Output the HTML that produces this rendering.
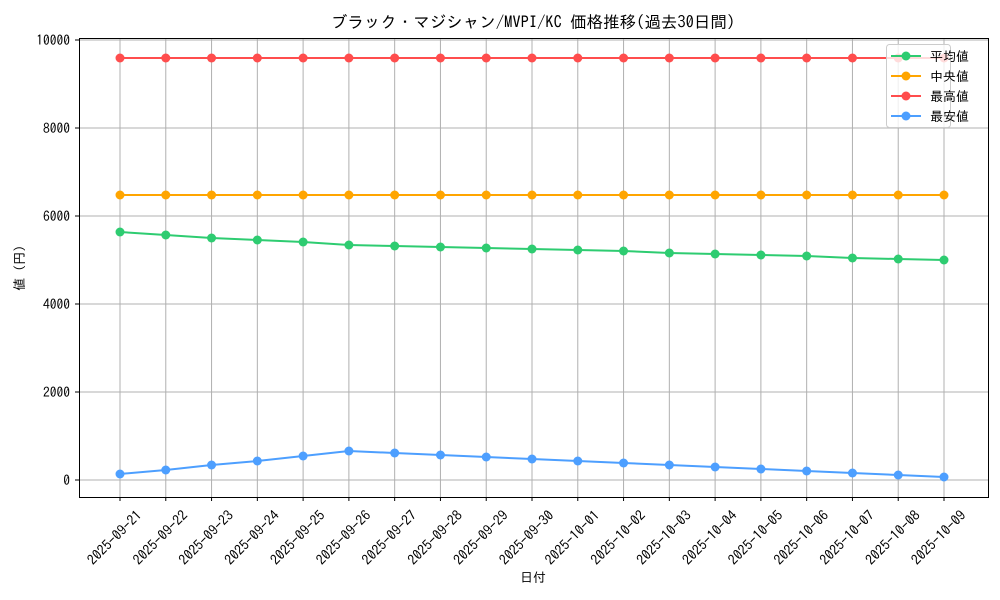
<!DOCTYPE html>
<html><head><meta charset="utf-8"><style>body{margin:0;background:#fff}svg{display:block}text{font-family:"IPAGothic","Noto Sans CJK JP",monospace;fill:#000}</style></head><body>
<svg width="1000" height="600" xmlns="http://www.w3.org/2000/svg">
<rect width="1000" height="600" fill="#fff"/>
<g id="grid" stroke="#b0b0b0" stroke-width="1"></g>
<g id="series"></g>
<rect x="79.5" y="38.5" width="909" height="459" fill="none" stroke="#000" stroke-width="1"/>
<g id="ticks" font-size="13.5"></g>
<text x="533" y="28" font-size="16.5" text-anchor="middle">ブラック・マジシャン/MVPI/KC 価格推移(過去30日間)</text>
<text x="533" y="582" font-size="13" text-anchor="middle">日付</text>
<text transform="translate(24,268) rotate(-90)" font-size="13" text-anchor="middle">値 (円)</text>
<g>
<rect x="886.5" y="44.5" width="64" height="83" rx="3" fill="#fff" fill-opacity="0.8" stroke="#ccc"/>
<line x1="891" y1="56" x2="921" y2="56" stroke="#2ecc71" stroke-width="2"/><circle cx="906" cy="56" r="4.5" fill="#2ecc71"/><text x="930" y="61" font-size="13">平均値</text>
<line x1="891" y1="76" x2="921" y2="76" stroke="#ffa500" stroke-width="2"/><circle cx="906" cy="76" r="4.5" fill="#ffa500"/><text x="930" y="81" font-size="13">中央値</text>
<line x1="891" y1="96" x2="921" y2="96" stroke="#ff4d4d" stroke-width="2"/><circle cx="906" cy="96" r="4.5" fill="#ff4d4d"/><text x="930" y="101" font-size="13">最高値</text>
<line x1="891" y1="116" x2="921" y2="116" stroke="#4d9fff" stroke-width="2"/><circle cx="906" cy="116" r="4.5" fill="#4d9fff"/><text x="930" y="121" font-size="13">最安値</text>
</g>
</svg>
<script>
const ns="http://www.w3.org/2000/svg";
function el(p,t,a,txt){const e=document.createElementNS(ns,t);for(const k in a)e.setAttribute(k,a[k]);if(txt)e.textContent=txt;p.appendChild(e);return e;}
const grid=document.getElementById('grid'),ticks=document.getElementById('ticks'),ser=document.getElementById('series');
const xs=[];for(let i=0;i<19;i++)xs.push(120+i*(824/18));
const dates=[];const d0=new Date(Date.UTC(2025,8,21));
for(let i=0;i<19;i++){const d=new Date(d0.getTime()+i*864e5);dates.push(d.toISOString().slice(0,10));}
xs.forEach((x,i)=>{el(grid,'line',{x1:x,y1:39,x2:x,y2:497});el(ticks,'line',{x1:x,y1:497,x2:x,y2:501,stroke:'#000'});
el(ticks,'text',{transform:`translate(${x-2},${541}) rotate(-45)`,'text-anchor':'middle','font-size':14},dates[i]);});
for(let v=0;v<=10000;v+=2000){const y=480-v*0.044;el(grid,'line',{x1:80,y1:y,x2:988,y2:y});el(ticks,'line',{x1:75,y1:y,x2:79,y2:y,stroke:'#000'});el(ticks,'text',{x:70,y:y+5,'text-anchor':'end'},String(v));}
const S=[
['#ff4d4d',Array(19).fill(58)],
['#ffa500',Array(19).fill(195)],
['#2ecc71',[232,235,238,240,242,245,246,247,248,249,250,251,253,254,255,256,258,259,260]],
['#4d9fff',[474,470,465,461,456,451,453,455,457,459,461,463,465,467,469,471,473,475,477]]];
S.forEach(([c,ys])=>{el(ser,'polyline',{points:ys.map((y,i)=>xs[i]+','+y).join(' '),fill:'none',stroke:c,'stroke-width':2});ys.forEach((y,i)=>el(ser,'circle',{cx:xs[i],cy:y,r:4.5,fill:c}));});
</script>
</body></html>
